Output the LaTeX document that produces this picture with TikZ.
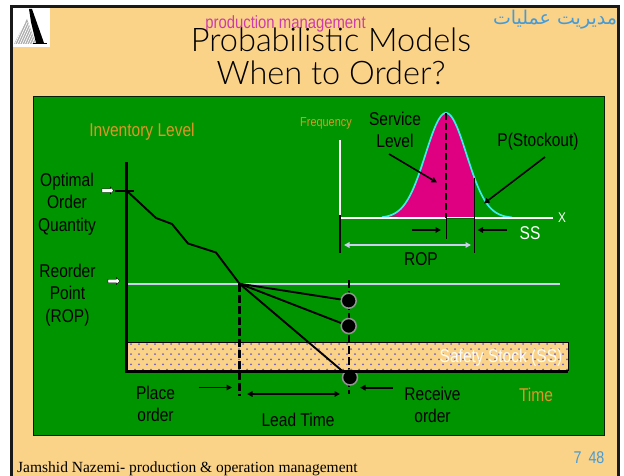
\documentclass[tikz,border=0pt]{standalone}
\usepackage{fontspec}
\setmainfont{Liberation Sans}
\newfontfamily\narrowf[FakeStretch=0.84]{Liberation Sans}
\newfontfamily\titlef{Lato Light}
\newfontfamily\footf{Liberation Serif}
\newfontfamily\arabicfont[Script=Arabic]{DejaVu Sans}
\TeXXeTstate=1
\usetikzlibrary{arrows.meta,shapes.arrows}
\definecolor{cream}{RGB}{250,211,137}
\definecolor{slidegreen}{RGB}{0,148,0}
\definecolor{bellpink}{RGB}{222,0,128}
\definecolor{bellcyan}{RGB}{60,235,235}
\definecolor{lav}{RGB}{205,205,240}
\definecolor{orangetxt}{RGB}{222,150,40}
\definecolor{magtxt}{RGB}{205,60,170}
\definecolor{bluetxt}{RGB}{70,155,215}
\definecolor{dotc}{RGB}{112,96,190}
\tikzset{
  lab/.style={font=\narrowf\fontsize{18.5}{18.5}\selectfont,inner sep=0pt,align=center,text=black},
  orangelab/.style={lab,text=orangetxt},
  whitelab/.style={lab,text=white},
  arr/.style={draw=black,line width=1.6pt,-{Triangle[length=5.5pt,width=5.5pt]}},
  larr/.style={draw=lav,line width=1.6pt,{Triangle[length=5.5pt,width=5.5pt]}-{Triangle[length=5.5pt,width=5.5pt]}},
  thick line/.style={draw=black,line width=1.9pt},
  vdash/.style={draw=black,line width=2.2pt,dash pattern=on 8pt off 3pt},
  hit/.style={circle,fill=black,draw=gray!85,line width=1.5pt,minimum size=15pt,inner sep=0pt},
  whitearrow/.style={single arrow,draw=black,fill=white,line width=0.4pt,minimum height=12pt,minimum width=7pt,single arrow head extend=1pt,inner sep=0.8pt},
}
\begin{document}
\begin{tikzpicture}[x=1pt,y=-1pt]
\useasboundingbox (0,0) rectangle (624,476);
\fill[white] (0,0) rectangle (624,476);
% slide
\fill[cream] (11,6.5) rectangle (619,477);
\draw[black!90,line width=2.6pt] (11.3,477) -- (11.3,6.7) -- (618.7,6.7) -- (618.7,477);
% logo
\fill[white] (13,8) rectangle (50,47);
\fill[gray!65] (27,19) -- (14,44) -- (36,44) -- cycle;
\foreach \i in {0,...,8}{\draw[white,line width=0.7pt] (15+\i*2.4,44) -- (25+\i*2.4,22);}
\fill[black] (29,9) -- (32,9) -- (44,43) -- (36,43) -- (31,22) -- cycle;
\draw[black,line width=1pt] (33,43.5) -- (47,43.5);
% green panel
\fill[slidegreen] (33,96) rectangle (604.7,435);
\draw[black!70!green!40!black,line width=0.8pt] (33,435) -- (33,96) -- (604.7,96) -- (604.7,435) -- cycle;
% texts in header
\node[font=\narrowf\fontsize{17.7}{17.7}\selectfont,text=magtxt,inner sep=0pt] (pm) at (285.5,24) {production management};
\node[font=\titlef\fontsize{32.5}{33}\selectfont,align=center,inner sep=0pt,text=black] (title) at (331,56) {Probabilistic Models\\When to Order?};
\node[font=\arabicfont\fontsize{19}{19}\selectfont,text=bluetxt,inner sep=0pt] (arab) at (555,20) {\beginR مدیریت عملیات\endR};
\node[font=\footf\fontsize{15.5}{15.5}\selectfont,text=black,anchor=base west,inner sep=0pt] (foot) at (17,472) {Jamshid Nazemi- production \& operation management};
\node[font=\narrowf\fontsize{17}{17}\selectfont,text=bluetxt,inner sep=0pt] (pg) at (589,458) {7\hspace{7pt}48};
% safety stock band
\fill[cream] (127,342) rectangle (568,371);
\begin{scope}
\clip (127,342) rectangle (568,371);
\foreach \r in {0,...,5}{
  \pgfmathsetmacro{\yy}{344+\r*5.1}
  \pgfmathsetmacro{\off}{mod(\r,2)*4}
  \foreach \c in {0,...,55}{
    \fill[dotc] (131+\off+\c*8,\yy) circle (1pt);
  }
}
\end{scope}
\draw[black,line width=0.9pt] (127,342) -- (568,342) -- (568,371);
\node[font=\narrowf\fontsize{18.5}{18.5}\selectfont,text=white!90!cream,inner sep=0pt] (sslab) at (501,358) {Safety Stock (SS)};
% named points
\coordinate (yTop) at (126.5,162);
\coordinate (origin) at (126.5,371);
\coordinate (xEnd) at (568,371);
\coordinate (tickL) at (115,191);
\coordinate (tickR) at (134,191);
\coordinate (q0) at (127,191);
\coordinate (q1) at (156,218);
\coordinate (q2) at (172,224);
\coordinate (q3) at (188,243.5);
\coordinate (q4) at (216,252.5);
\coordinate (rp) at (239.5,283.7);
\coordinate (ropL) at (128,283.7);
\coordinate (ropR) at (560,283.7);
\coordinate (dash1b) at (239.5,396);
\coordinate (dash2t) at (349,280);
\coordinate (dash2b) at (349,394);
% main chart lines
\draw[lav,line width=1.7pt] (ropL) -- (ropR);
\draw[vdash] (rp) -- (dash1b);
\draw[vdash] (dash2t) -- (dash2b);
\node[hit] (h1) at (348.7,300.7) {};
\node[hit] (h2) at (348.7,326) {};
\node[hit] (h3) at (350,377.5) {};
\draw[thick line] (rp) -- (h1);
\draw[thick line] (rp) -- (h2);
\draw[thick line] (rp) -- (h3);
\draw[thick line,line join=round] (q0) -- (q1) -- (q2) -- (q3) -- (q4) -- (rp);
\draw[black,line width=3pt] (yTop) -- (origin) -- (xEnd);
\draw[black,line width=1.8pt] (tickL) -- (tickR);
% white marker arrows
\node[whitearrow] (wa1) at (107,190.5) {};
\node[whitearrow] (wa2) at (113,281) {};
% labels main chart
\node[orangelab] (inv) at (142,132) {Inventory Level};
\node[lab] (opt) at (67,204) {Optimal\\[4pt]Order\\[4pt]Quantity};
\node[lab] (reo) at (67.5,295) {Reorder\\[4pt]Point\\[4pt](ROP)};
\node[lab] (place) at (155.5,404) {Place\\[4pt]order};
\node[lab] (lead) at (298,420) {Lead Time};
\node[lab] (recv) at (432.5,405) {Receive\\[4pt]order};
\node[orangelab] (time) at (536,395) {Time};
% chart arrows
\coordinate (pA) at (199,387.5);
\coordinate (pB) at (232,387.5);
\coordinate (rA) at (393,387.7);
\coordinate (rB) at (360,387.7);
\coordinate (lA) at (247,394);
\coordinate (lB) at (340,394);
\draw[arr] (pA) -- (pB);
\draw[arr] (rA) -- (rB);
\draw[draw=black,line width=1.6pt,{Triangle[length=5.5pt,width=5.5pt]}-{Triangle[length=5.5pt,width=5.5pt]}] (lA) -- (lB);
% bell curve
\fill[bellpink] plot[domain=386:474.5,samples=70] ({\x},{218-105*exp(-((\x-446)^2)/(2*20.5*20.5))}) -- (474.5,218) -- cycle;
\draw[bellcyan,line width=1.7pt] plot[domain=382:512,samples=100,smooth] ({\x},{218-105*exp(-((\x-446)^2)/(2*20.5*20.5))});
\coordinate (fTop) at (340.3,140);
\coordinate (fO) at (340.3,218);
\coordinate (fX) at (552.7,218);
\draw[white,line width=1.7pt] (fTop) -- (fO) -- (fX);
\draw[slidegreen!70!black,line width=0.8pt] (446,218) -- (474,218);
\draw[black,line width=1.9pt] (340,215) -- (340,253);
\draw[black,line width=1.9pt] (474.5,178) -- (474.5,253);
\draw[black,line width=2pt,dash pattern=on 7pt off 3pt] (446,113) -- (446,218);
\draw[black,line width=1.9pt] (446.5,218) -- (446.5,239);
\draw[arr] (412,230) -- (441,230);
\draw[arr] (507,230) -- (477.5,230);
\draw[larr] (344,245) -- (471,245);
\draw[arr] (389,154) -- (437,182.5);
\draw[arr] (545,157) -- (484,203.5);
% labels distribution
\node[font=\narrowf\fontsize{13}{13}\selectfont,text=orangetxt,inner sep=0pt] (freq) at (326,123) {Frequency};
\node[lab] (serv) at (395,130) {Service\\[4pt]Level};
\node[lab] (pso) at (538,142) {P(Stockout)};
\node[whitelab,font=\narrowf\fontsize{14}{14}\selectfont] (xl) at (562,218) {X};
\node[whitelab] (ssl) at (530,233) {SS};
\node[lab] (ropl) at (421,259) {ROP};
\end{tikzpicture}
\end{document}
